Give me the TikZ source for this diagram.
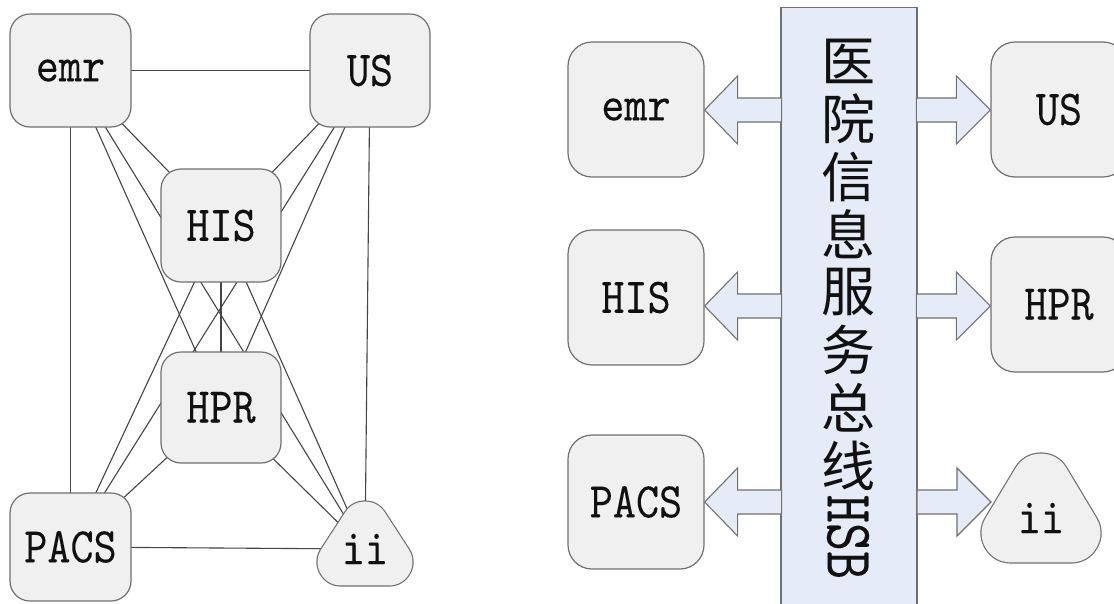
\documentclass[tikz,border=0pt]{standalone}
\usepackage{fontspec}
\usepackage{graphicx}
\newfontfamily\cjk{Noto Sans CJK SC}
\newfontfamily\lblfont[FakeBold=0.1]{lmmono10-regular.otf}
\usetikzlibrary{backgrounds,calc}
\definecolor{boxf}{HTML}{F0F0F0}
\definecolor{bordc}{HTML}{707070}
\definecolor{linec}{HTML}{454545}
\definecolor{busf}{HTML}{E6ECF7}
\definecolor{txtc}{HTML}{111111}
\newcommand\lbl[1]{\scalebox{0.88}[1]{\fontsize{50}{50}\selectfont\lblfont #1}}
\begin{document}
\begin{tikzpicture}[x=1pt,y=-1pt,
  box/.style={draw=bordc, fill=boxf, rounded corners=20pt, line width=1.2pt,
              minimum width=121pt, minimum height=113pt, inner sep=0pt, text=txtc},
  rbox/.style={box, rounded corners=24pt, minimum width=136pt, minimum height=135pt},
  edge/.style={draw=linec, line width=1.1pt},
  blk/.style={draw=bordc, fill=busf, line width=1.1pt, line join=miter},
  lab/.style={inner sep=0pt, text=txtc}]
\useasboundingbox (0,0) rectangle (1114,603);
\clip (0,0) rectangle (1114,603);

% ---------- left: point-to-point ----------
\node[box] (emr) at (70.5,70.5) {\lbl{emr}};
\node[box, minimum width=120pt] (us) at (370,70.5) {\lbl{US}};
\node[box, minimum width=120pt] (his) at (221,225.5) {\lbl{HIS}};
\node[box, minimum width=120pt, minimum height=111pt] (hpr) at (221,407.5) {\lbl{HPR}};
\node[box, minimum height=108pt] (pacs) at (70.5,547) {\lbl{PACS}};
% rounded triangle for ii
\path[draw=bordc, line width=49.2pt, line join=round] (365,525) -- (341,562) -- (389,562) -- cycle;
\path[draw=boxf, fill=boxf, line width=46.8pt, line join=round] (365,525) -- (341,562) -- (389,562) -- cycle;
\node[lab] (ii) at (365,549) {\lbl{ii}};

\begin{scope}[on background layer]
\fill[white] (0,0) rectangle (1114,603);
\foreach \a/\b in {emr/us, emr/his, emr/hpr, emr/pacs, emr/ii,
                   us/his, us/hpr, us/pacs, us/ii,
                   his/hpr, his/pacs, his/ii,
                   hpr/pacs, hpr/ii, pacs/ii}
  \draw[edge] (\a.center) -- (\b.center);
\end{scope}

% ---------- right: service bus ----------
\node[draw=bordc, fill=busf, line width=1.2pt, minimum width=136pt, minimum height=610pt,
      anchor=north, inner sep=0pt] (bus) at (849,7) {};
\foreach \c [count=\i from 0] in {医,院,信,息,服,务,总,线}
  \node[lab, font=\cjk\fontsize{54}{54}\selectfont] (ch\i) at ({848.5},{61+57.8*\i}) {\c};
\node[lab, rotate=-90] (hsb) at (848,537) {\scalebox{0.8}[1]{\fontsize{67}{67}\selectfont\lblfont HSB}};

\node[rbox] (emrR) at (636,109.5) {\lbl{emr}};
\node[rbox] (hisR) at (636,297.5) {\lbl{HIS}};
\node[rbox, minimum height=134pt] (pacsR) at (636,502) {\lbl{PACS}};
\node[rbox] (usR) at (1059,109.5) {\lbl{US}};
\node[rbox] (hprR) at (1059,304.5) {\lbl{HPR}};
\path[draw=bordc, line width=61.2pt, line join=round] (1041,483) -- (1011,533) -- (1071,533) -- cycle;
\path[draw=boxf, fill=boxf, line width=58.8pt, line join=round] (1041,483) -- (1011,533) -- (1071,533) -- cycle;
\node[lab] (iiR) at (1041,518) {\lbl{ii}};

\foreach \n/\yy in {emrR/110, hisR/306, pacsR/502}
  \draw[blk] (\n.east |- 0,\yy) -- ++(33,-34) -- ++(0,22) -- ++(44,0) -- ++(0,24)
             -- ++(-44,0) -- ++(0,22) -- cycle;
\foreach \n/\yy in {usR/110, hprR/306}
  \draw[blk] (\n.west |- 0,\yy) -- ++(-34,-34) -- ++(0,22) -- ++(-40,0) -- ++(0,24)
             -- ++(40,0) -- ++(0,22) -- cycle;
\draw[blk] ($(iiR.center)+(-50,-16)$) -- ++(-34,-34) -- ++(0,22) -- ++(-40,0) -- ++(0,24)
             -- ++(40,0) -- ++(0,22) -- cycle;
\end{tikzpicture}
\end{document}
